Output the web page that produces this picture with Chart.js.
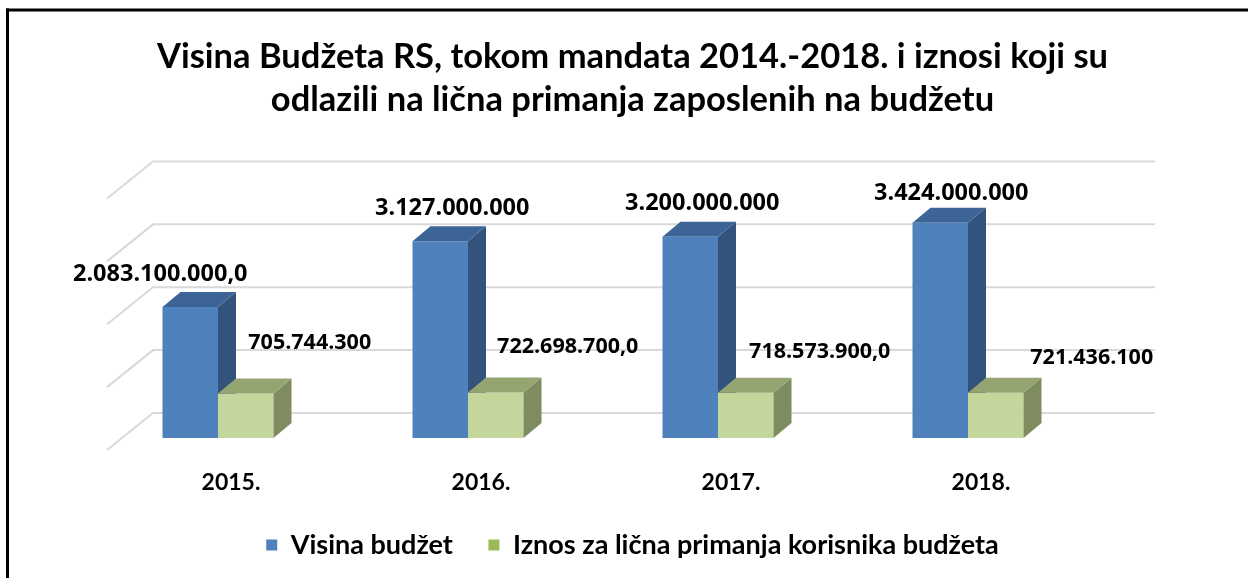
<!DOCTYPE html>
<html><head><meta charset="utf-8">
<script src="https://cdn.jsdelivr.net/npm/chart.js@4.4.0/dist/chart.umd.min.js"></script>
<style>html,body{margin:0;padding:0;background:#fff;overflow:hidden}</style>
</head><body>
<canvas id="c" width="1248" height="578"></canvas>
<script>
// ---- data ----
const categories = ['2015.', '2016.', '2017.', '2018.'];
const budgetValues = [2083100000, 3127000000, 3200000000, 3424000000];
const salaryValues = [705744300, 722698700, 718573900, 721436100];
const budgetDecimals = [1, 0, 0, 0];
const salaryDecimals = [0, 1, 1, 0];
const seriesNames = ['Visina budžet', 'Iznos za lična primanja korisnika budžeta'];
const gridValues = [0, 1000000000, 2000000000, 3000000000, 4000000000];
const titleLines = ['Visina Budžeta RS, tokom mandata 2014.-2018. i iznosi koji su',
                    'odlazili na lična primanja zaposlenih na budžetu'];

// ---- style / placement ----
const DX = 18, DY = -15;
const WALL = {frontDx: 14, frontDy: 12, backDx: 60, backDy: -25, rightExtra: 62};
const budgetFaces = {front: '#4F81BD', top: '#3C6496', side: '#34537C'};
const salaryFaces = {front: '#C3D69B', top: '#94A572', side: '#7F8C60'};
const legendColors = ['#4F81BD', '#9BBB59'];
const budgetLabelNudge = [[-30, -33], [12, -33], [12, -33], [11, -29]];
const salaryLabelNudge = [[64, -51], [72, -46], [74, -41], [96, -35]];

function fmt(v, dec) {
  const s = Math.round(v).toString().replace(/\B(?=(\d{3})+(?!\d))/g, '.');
  return dec > 0 ? s + ',' + '0'.repeat(dec) : s;
}

function faces(ctx, bar, f) {
  const p = bar.getProps(['x', 'y', 'width', 'base'], true);
  const l = p.x - p.width / 2, r = p.x + p.width / 2;
  ctx.fillStyle = f.side;
  ctx.beginPath();
  ctx.moveTo(r, p.y); ctx.lineTo(r + DX, p.y + DY); ctx.lineTo(r + DX, p.base + DY); ctx.lineTo(r, p.base);
  ctx.closePath(); ctx.fill();
  ctx.fillStyle = f.top;
  ctx.beginPath();
  ctx.moveTo(l, p.y); ctx.lineTo(l + DX, p.y + DY); ctx.lineTo(r + DX, p.y + DY); ctx.lineTo(r, p.y);
  ctx.closePath(); ctx.fill();
}

const threeD = {
  id: 'threeD',
  beforeDatasetsDraw(chart) {
    const {ctx, chartArea, scales} = chart;
    const y = scales.y;
    ctx.save();
    ctx.strokeStyle = '#D9D9D9';
    ctx.lineWidth = 2;
    gridValues.forEach(v => {
      const py = y.getPixelForValue(v);
      ctx.beginPath();
      ctx.moveTo(chartArea.left + WALL.frontDx, py + WALL.frontDy);
      ctx.lineTo(chartArea.left + WALL.backDx, py + WALL.backDy);
      ctx.lineTo(chartArea.right + WALL.rightExtra, py + WALL.backDy);
      ctx.stroke();
    });
    chart.getDatasetMeta(0).data.forEach(b => faces(ctx, b, budgetFaces));
    ctx.restore();
  },
  afterDatasetsDraw(chart) {
    const ctx = chart.ctx;
    ctx.save();
    chart.getDatasetMeta(1).data.forEach(b => faces(ctx, b, salaryFaces));
    ctx.fillStyle = '#000';
    ctx.textAlign = 'center';
    ctx.textBaseline = 'middle';
    ctx.font = 'bold 23.5px "Open Sans"';
    chart.getDatasetMeta(0).data.forEach((b, i) => {
      const n = budgetLabelNudge[i];
      ctx.fillText(fmt(budgetValues[i], budgetDecimals[i]), b.x + n[0], b.y + n[1]);
    });
    ctx.font = 'bold 21.5px "Open Sans"';
    chart.getDatasetMeta(1).data.forEach((b, i) => {
      const n = salaryLabelNudge[i];
      ctx.fillText(fmt(salaryValues[i], salaryDecimals[i]), b.x + n[0], b.y + n[1]);
    });
    ctx.restore();
  },
  afterDraw(chart) {
    const ctx = chart.ctx;
    ctx.save();
    ctx.fillStyle = '#000';
    ctx.fillRect(6, 8.5, 1248, 3);
    ctx.fillRect(6, 8.5, 3, 578);
    ctx.restore();
  }
};

const bgPlugin = {
  id: 'bg',
  beforeDraw(chart) {
    const ctx = chart.ctx;
    ctx.save(); ctx.fillStyle = '#fff'; ctx.fillRect(0, 0, chart.width, chart.height); ctx.restore();
  }
};

new Chart(document.getElementById('c'), {
  type: 'bar',
  data: {
    labels: categories,
    datasets: [
      {label: seriesNames[0], data: budgetValues, backgroundColor: budgetFaces.front, borderWidth: 0,
       categoryPercentage: 0.444, barPercentage: 1},
      {label: seriesNames[1], data: salaryValues, backgroundColor: salaryFaces.front, borderWidth: 0,
       categoryPercentage: 0.444, barPercentage: 1}
    ]
  },
  options: {
    responsive: false,
    animation: false,
    devicePixelRatio: 1,
    layout: {padding: {left: 17, right: 0, top: 0, bottom: 9.5}},
    scales: {
      x: {
        grid: {display: false, drawTicks: false},
        border: {display: false},
        ticks: {color: '#000', font: {family: 'Lato', weight: 'bold', size: 23, lineHeight: 1.2},
                padding: 31, labelOffset: 13, maxRotation: 0, autoSkip: false},
        afterFit(s) { s.height = 58; }
      },
      y: {
        position: 'left', min: 0, max: 4000000000,
        grid: {display: false, drawTicks: false}, border: {display: false},
        ticks: {display: false},
        afterFit(s) { s.width = 76; }
      },
      y2: {
        type: 'linear', position: 'right',
        grid: {display: false, drawTicks: false}, border: {display: false},
        ticks: {display: false},
        afterFit(s) { s.width = 155; }
      }
    },
    plugins: {
      tooltip: {enabled: false},
      title: {
        display: true, text: titleLines, color: '#000',
        font: {family: 'Lato', weight: 'bold', size: 34.5, lineHeight: 1.246},
        padding: {top: 35.5, bottom: 65}
      },
      legend: {
        position: 'bottom',
        labels: {
          color: '#000', boxWidth: 11, boxHeight: 11, padding: 35.5,
          font: {family: 'Lato', weight: 'bold', size: 27},
          generateLabels(chart) {
            const items = Chart.defaults.plugins.legend.labels.generateLabels(chart);
            items.forEach(it => { it.fillStyle = legendColors[it.datasetIndex]; it.lineWidth = 0; it.strokeStyle = legendColors[it.datasetIndex]; });
            return items;
          }
        }
      }
    }
  },
  plugins: [bgPlugin, threeD]
});
</script>
</body></html>
